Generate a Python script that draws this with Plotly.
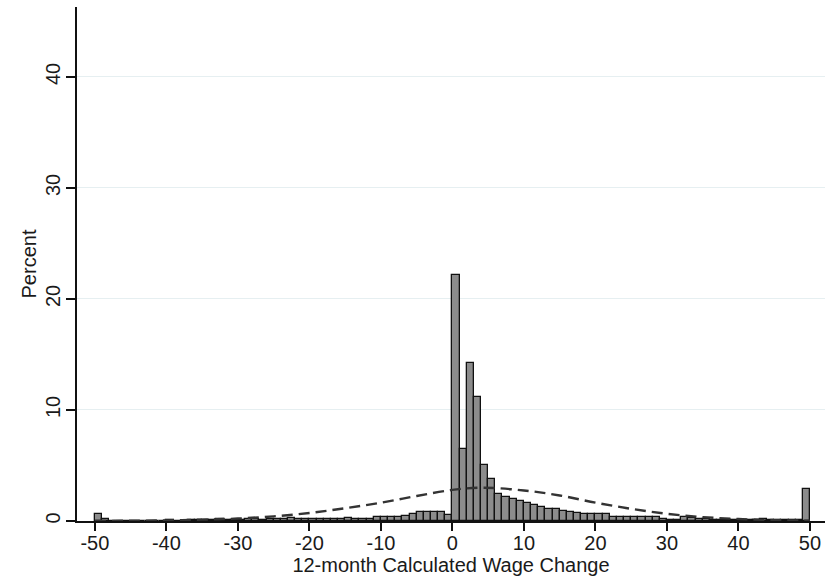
import plotly.graph_objects as go

# Histogram bins (left edges, width 1) and percent in each bin
bin_left = list(range(-50, 50))
percent = [
    0.6, 0.2, 0.02, 0.02, 0.02, 0.02, 0.02, 0.02, 0.02, 0.03,   # -50..-41
    0.05, 0.03, 0.03, 0.05, 0.05, 0.1, 0.08, 0.15, 0.06, 0.06,  # -40..-31
    0.1, 0.15, 0.15, 0.1, 0.15, 0.2, 0.2, 0.25, 0.15, 0.15,     # -30..-21
    0.2, 0.2, 0.2, 0.15, 0.2, 0.25, 0.2, 0.2, 0.2, 0.35,        # -20..-11
    0.4, 0.4, 0.4, 0.45, 0.65, 0.8, 0.8, 0.8, 0.8, 0.55,        # -10..-1
    22.2, 6.45, 14.2, 11.2, 5.0, 3.8, 2.4, 2.2, 2.0, 1.8,       # 0..9
    1.65, 1.47, 1.3, 1.1, 1.05, 0.9, 0.8, 0.75, 0.6, 0.6,       # 10..19
    0.6, 0.6, 0.4, 0.4, 0.4, 0.4, 0.4, 0.4, 0.35, 0.15,         # 20..29
    0.1, 0.1, 0.4, 0.3, 0.15, 0.2, 0.1, 0.1, 0.1, 0.08,         # 30..39
    0.08, 0.08, 0.1, 0.15, 0.1, 0.1, 0.1, 0.08, 0.05, 2.9,      # 40..49
]

# Normal density overlay
curve_x = [-50, -45, -40, -35, -30, -25, -20, -15, -10, -5, 0, 4, 10, 15, 20, 25, 30, 35, 40, 45, 50]
curve_y = [0.01, 0.02, 0.05, 0.12, 0.22, 0.42, 0.72, 1.15, 1.65, 2.25, 2.8, 3.0, 2.75, 2.3, 1.65, 1.1, 0.65, 0.35, 0.18, 0.08, 0.03]

x_ticks = [-50, -40, -30, -20, -10, 0, 10, 20, 30, 40, 50]
y_ticks = [0, 10, 20, 30, 40]

FONT = "Liberation Sans, Arial, sans-serif"

fig = go.Figure()
fig.add_trace(go.Bar(
    x=[b + 0.5 for b in bin_left],
    y=percent,
    width=1,
    marker=dict(color="#8c8c8c", line=dict(color="#111111", width=1.3)),
    showlegend=False,
))
fig.add_trace(go.Scatter(
    x=curve_x, y=curve_y, mode="lines",
    line=dict(color="#333333", width=2.4, dash="11px,6px", shape="spline"),
    showlegend=False,
))

fig.update_layout(
    width=834, height=579,
    margin=dict(l=77, r=9, t=7, b=58),
    paper_bgcolor="white", plot_bgcolor="white",
    font=dict(family=FONT, size=20, color="#1a1a1a"),
    bargap=0,
)
fig.update_xaxes(
    range=[-52.5, 52.1],
    automargin=False,
    tickvals=x_ticks, ticktext=[str(v) for v in x_ticks],
    ticks="outside", ticklen=8, tickwidth=1.5, tickcolor="#111111",
    ticklabelstandoff=-5,
    showline=True, linecolor="#111111", linewidth=1.6,
    showgrid=False, zeroline=False,
    tickfont=dict(size=20),
    title=dict(text="12-month Calculated Wage Change", font=dict(size=20), standoff=0),
)
fig.update_yaxes(
    range=[0, 46.3],
    automargin=False,
    tickvals=y_ticks, ticktext=[str(v) for v in y_ticks],
    ticks="outside", ticklen=9, tickwidth=1.5, tickcolor="#111111",
    ticklabelstandoff=-2,
    showline=True, linecolor="#111111", linewidth=1.6,
    showgrid=True, gridcolor="#e6eff1", gridwidth=1.2,
    zeroline=False,
    tickangle=-90,
    tickfont=dict(size=20),
    title=dict(text="Percent", font=dict(size=20), standoff=0),
)

fig.write_html("out.html", config={"displayModeBar": False},
               post_script="document.body.style.margin='0px';")
